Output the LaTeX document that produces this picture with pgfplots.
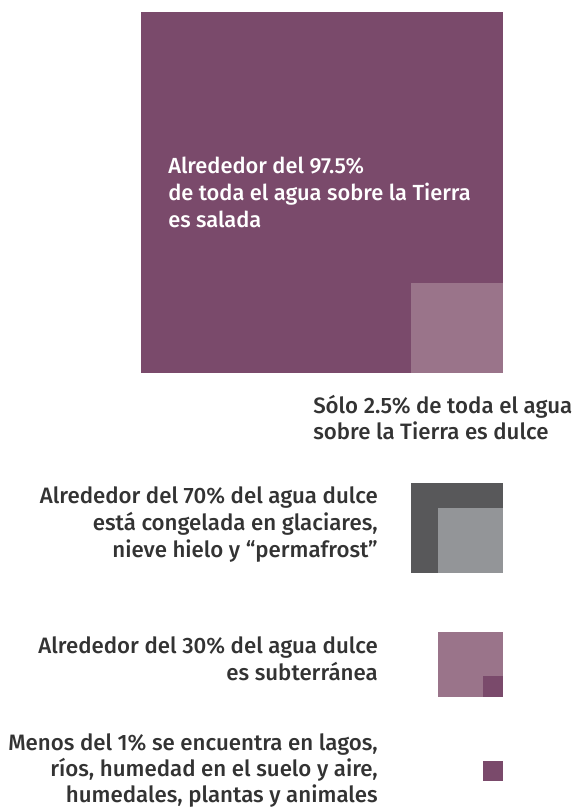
\documentclass[border=0pt]{standalone}
\usepackage{fontspec}
\setmainfont{Fira Sans Medium}
\usepackage{pgfplots}
\pgfplotsset{compat=1.18}
\definecolor{purp}{HTML}{7A4A6B}
\definecolor{lpurp}{HTML}{9A748A}
\definecolor{dgray}{HTML}{58585A}
\definecolor{lgray}{HTML}{939598}
\definecolor{txt}{HTML}{333333}
\begin{document}
\begin{tikzpicture}
\begin{axis}[
  width=435.75pt, height=605.25pt, scale only axis,
  xmin=0, xmax=581, ymin=0, ymax=807, y dir=reverse,
  hide axis, clip=false,
]
% salt water 97.5%
\addplot[fill=purp, draw=none] coordinates {(141,12) (503,12) (503,373) (141,373)} -- cycle;
% fresh water 2.5%
\addplot[fill=lpurp, draw=none] coordinates {(411,283) (503,283) (503,373) (411,373)} -- cycle;
% fresh water
\addplot[fill=dgray, draw=none] coordinates {(411,483) (503,483) (503,573) (411,573)} -- cycle;
% frozen 70%
\addplot[fill=lgray, draw=none] coordinates {(438,508) (503,508) (503,573) (438,573)} -- cycle;
% groundwater 30%
\addplot[fill=lpurp, draw=none] coordinates {(438,632) (503,632) (503,697) (438,697)} -- cycle;
\addplot[fill=purp, draw=none] coordinates {(483,676) (503,676) (503,697) (483,697)} -- cycle;
% <1%
\addplot[fill=purp, draw=none] coordinates {(483,761) (503,761) (503,781) (483,781)} -- cycle;

\begin{scope}[every node/.style={inner sep=0pt, font=\fontsize{16.4}{20}\selectfont}]
\node[anchor=base west, text=white] at (axis cs:168,173) {Alrededor del 97.5\%};
\node[anchor=base west, text=white] at (axis cs:168,200) {de toda el agua sobre la Tierra};
\node[anchor=base west, text=white] at (axis cs:168,227) {es salada};
\end{scope}
\begin{scope}[every node/.style={inner sep=0pt, font=\fontsize{16.7}{20}\selectfont}]
\node[anchor=base west, text=txt] at (axis cs:313,413) {Sólo 2.5\% de toda el agua};
\node[anchor=base west, text=txt] at (axis cs:313,439) {sobre la Tierra es dulce};

\node[anchor=base east, text=txt] at (axis cs:378,503) {Alrededor del 70\% del agua dulce};
\node[anchor=base east, text=txt] at (axis cs:378,530) {está congelada en glaciares,};
\node[anchor=base east, text=txt] at (axis cs:378,557) {nieve hielo y “permafrost”};

\node[anchor=base east, text=txt] at (axis cs:378,653) {Alrededor del 30\% del agua dulce};
\node[anchor=base east, text=txt] at (axis cs:378,680) {es subterránea};

\node[anchor=base east, text=txt] at (axis cs:378,750) {Menos del 1\% se encuentra en lagos,};
\node[anchor=base east, text=txt] at (axis cs:378,776) {ríos, humedad en el suelo y aire,};
\node[anchor=base east, text=txt] at (axis cs:378,802) {humedales, plantas y animales};
\end{scope}
\end{axis}
\pgfresetboundingbox
\path[use as bounding box] (current axis.south west) rectangle (current axis.north east);
\end{tikzpicture}
\end{document}
